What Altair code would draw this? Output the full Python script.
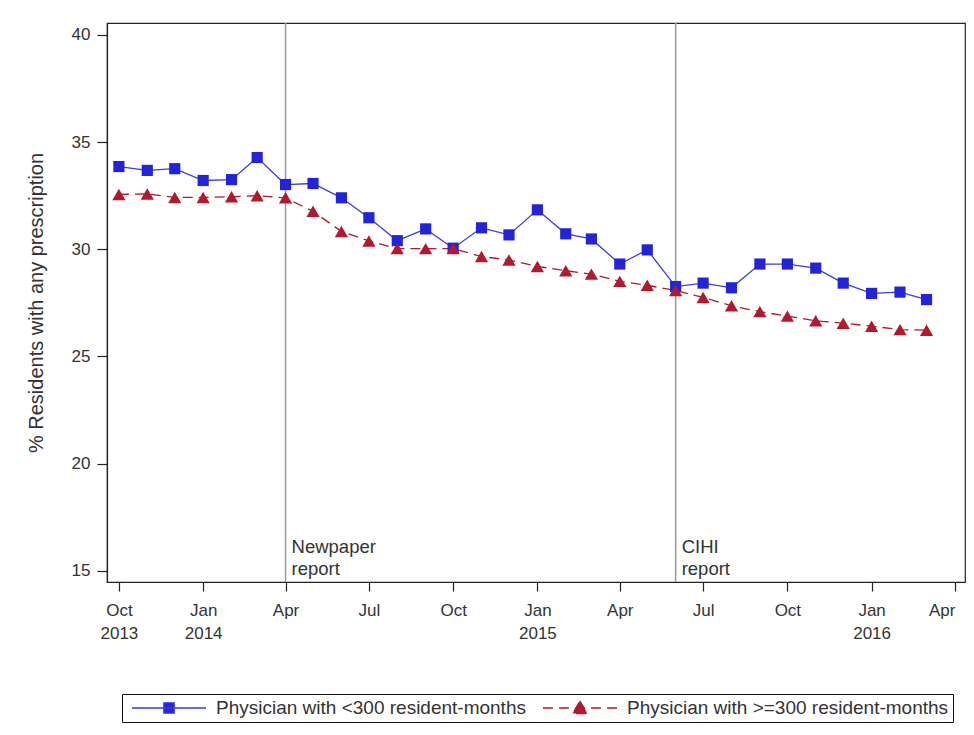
import altair as alt
import pandas as pd

# ---- data ----
months = [
    "2013-10-01", "2013-11-01", "2013-12-01", "2014-01-01", "2014-02-01", "2014-03-01",
    "2014-04-01", "2014-05-01", "2014-06-01", "2014-07-01", "2014-08-01", "2014-09-01",
    "2014-10-01", "2014-11-01", "2014-12-01", "2015-01-01", "2015-02-01", "2015-03-01",
    "2015-04-01", "2015-05-01", "2015-06-01", "2015-07-01", "2015-08-01", "2015-09-01",
    "2015-10-01", "2015-11-01", "2015-12-01", "2016-01-01", "2016-02-01", "2016-03-01",
]
small_practice = [
    33.86, 33.68, 33.76, 33.21, 33.25, 34.28,
    33.02, 33.07, 32.40, 31.47, 30.40, 30.95,
    30.05, 31.00, 30.67, 31.84, 30.72, 30.48,
    29.31, 29.97, 28.26, 28.42, 28.20, 29.31,
    29.31, 29.12, 28.42, 27.94, 28.00, 27.65,
]
large_practice = [
    32.56, 32.58, 32.42, 32.42, 32.45, 32.50,
    32.40, 31.77, 30.83, 30.39, 30.03, 30.03,
    30.03, 29.66, 29.50, 29.20, 29.00, 28.84,
    28.50, 28.32, 28.07, 27.75, 27.36, 27.09,
    26.88, 26.66, 26.55, 26.41, 26.25, 26.22,
]
series_names = ["Physician with <300 resident-months", "Physician with >=300 resident-months"]
event_dates = ["2014-04-01", "2015-06-01"]
event_labels = ["Newpaper\nreport", "CIHI\nreport"]
y_ticks = [15, 20, 25, 30, 35, 40]
x_ticks = [(2013, 10), (2014, 1), (2014, 4), (2014, 7), (2014, 10), (2015, 1),
           (2015, 4), (2015, 7), (2015, 10), (2016, 1), (2016, 4)]

FONT = "Liberation Sans"
BLUE = "#2323d9"
BLUE_LINE = "#3a3ae0"
RED = "#b3182d"
RED_DASH = [10, 6]

df = pd.DataFrame({
    "month": months * 2,
    "value": small_practice + large_practice,
    "series": [series_names[0]] * len(months) + [series_names[1]] * len(months),
})
events = pd.DataFrame({"date": event_dates, "label": event_labels})

x_scale = alt.Scale(
    type="utc",
    domain=[alt.DateTime(year=2013, month=9, date=18, utc=True),
            alt.DateTime(year=2016, month=4, date=12, utc=True)],
)
y_scale = alt.Scale(domain=[14.47, 40.56], nice=False, zero=False)

x_enc = alt.X(
    "month:T", scale=x_scale,
    axis=alt.Axis(
        title=None,
        values=[alt.DateTime(year=y, month=m, date=1, utc=True) for y, m in x_ticks],
        labelExpr="[utcFormat(datum.value, '%b'), (utcmonth(datum.value) == 0 || utcyear(datum.value) == 2013) ? utcFormat(datum.value, '%Y') : '']",
        labelLineHeight=23, labelPadding=11, tickSize=9,
        grid=False, labelFlush=10.6, labelOverlap=False,
    ),
)
y_enc = alt.Y(
    "value:Q", scale=y_scale,
    axis=alt.Axis(
        title="% Residents with any prescription", values=y_ticks,
        tickSize=10, labelPadding=7, titlePadding=25, grid=False,
    ),
)

is_small = alt.datum.series == series_names[0]
is_large = alt.datum.series == series_names[1]

line_small = alt.Chart(df).transform_filter(is_small).mark_line(
    strokeWidth=1.3, color=BLUE_LINE
).encode(x=x_enc, y=y_enc)
line_large = alt.Chart(df).transform_filter(is_large).mark_line(
    strokeWidth=1.3, color=RED, strokeDash=RED_DASH
).encode(x=x_enc, y=y_enc)

squares = alt.Chart(df).transform_filter(is_small).mark_point(
    shape="square", filled=True, size=125, color=BLUE, opacity=1
).encode(x=x_enc, y=y_enc)
triangles = alt.Chart(df).transform_filter(is_large).mark_point(
    shape="triangle-up", filled=True, size=175, color=RED, opacity=1
).encode(x=x_enc, y=y_enc)

# legend-only layer (no marks drawn; its scales carry the legend)
fill_scale = alt.Scale(domain=series_names, range=[BLUE, RED])
stroke_scale = alt.Scale(domain=series_names, range=[BLUE_LINE, RED])
dash_scale = alt.Scale(domain=series_names, range=[[1, 0], RED_DASH])
shape_scale = alt.Scale(
    domain=series_names,
    range=[
        "M-1,0H1M-0.14,-0.14H0.14V0.14H-0.14Z",
        "M-1,0H1M0,-0.19L0.2,0.15H-0.2Z",
    ],
)
legend_layer = alt.Chart(df).transform_filter("false").mark_point(
    filled=True, opacity=1, strokeWidth=1.3
).encode(
    x=x_enc, y=y_enc,
    fill=alt.Fill("series:N", scale=fill_scale, title=None),
    stroke=alt.Stroke("series:N", scale=stroke_scale, title=None),
    strokeDash=alt.StrokeDash("series:N", scale=dash_scale, title=None),
    shape=alt.Shape("series:N", scale=shape_scale, title=None),
)

rules = alt.Chart(events).mark_rule(color="#9a9a9a", strokeWidth=1.5).encode(
    x=alt.X("date:T", scale=x_scale)
)
notes = alt.Chart(events).mark_text(
    align="left", baseline="alphabetic", dx=6, lineBreak="\n", lineHeight=22,
    font=FONT, fontSize=18.5, color="#333333",
).encode(x=alt.X("date:T", scale=x_scale), y=alt.value(530), text="label:N")

chart = alt.layer(
    rules, line_small, line_large, squares, triangles, legend_layer, notes
).properties(
    width=858, height=559,
    autosize=alt.AutoSizeParams(type="none"),
    padding={"left": 99, "top": 15, "right": 1, "bottom": 141},
).configure_view(
    stroke="#222222", strokeWidth=1.2
).configure_axis(
    labelFont=FONT, titleFont=FONT, labelFontSize=17, titleFontSize=20,
    labelColor="#333333", titleColor="#333333", titleFontWeight="normal",
    domainColor="#222222", tickColor="#222222", domainWidth=1.2, tickWidth=1.2,
).configure_legend(
    orient="none", legendX=15, legendY=671, direction="horizontal", columns=2,
    labelFont=FONT, labelFontSize=19, labelColor="#333333",
    strokeColor="#111111", padding=4, symbolSize=5476, symbolStrokeWidth=1.3,
    labelOffset=9, columnPadding=11, symbolOffset=5, clipHeight=20,
    labelLimit=400,
)

chart.save("out.html", embed_options={"renderer": "svg", "actions": False})
